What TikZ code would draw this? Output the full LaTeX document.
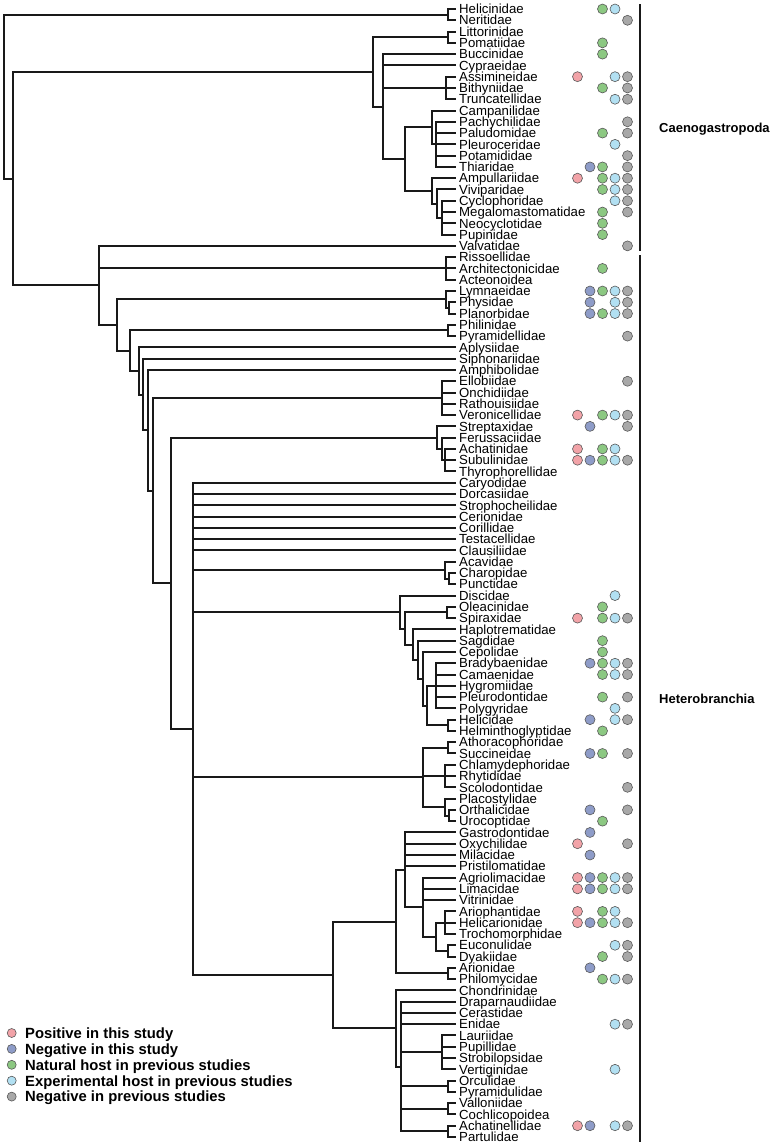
\documentclass[tikz,border=0pt]{standalone}
\usepackage{fontspec}
\setmainfont{Liberation Sans}
\usetikzlibrary{positioning,calc}

\definecolor{hpos}{RGB}{242,163,168}
\definecolor{hneg}{RGB}{142,156,200}
\definecolor{hnat}{RGB}{140,200,130}
\definecolor{hexp}{RGB}{178,224,242}
\definecolor{hprev}{RGB}{168,168,168}

\newcommand{\clade}[3]{%
  \foreach \kid [count=\kn] in {#3}{\ifnum\kn=1 \xdef\cfirst{\kid}\fi\xdef\clast{\kid}}%
  \coordinate (#2-m) at ($(\cfirst)!.5!(\clast)$);
  \coordinate (#2) at (#1,0 |- #2-m);
  \foreach \kid in {#3}{\draw[br] (#2) |- (\kid);}}

\begin{document}
\begin{tikzpicture}[
  x=1bp,y=-1bp,
  br/.style={line width=2bp,draw=black!90},
  tip/.style={anchor=west,inner xsep=3bp,inner ysep=0pt,text height=9.4bp,text depth=0pt,
              font=\fontsize{13.2bp}{14bp}\selectfont},
  dot/.style={circle,draw=black!65,line width=0.6bp,minimum size=10bp,inner sep=0pt},
  dP/.style={dot,fill=hpos,xshift=121.5bp},
  dB/.style={dot,fill=hneg,xshift=134bp},
  dG/.style={dot,fill=hnat,xshift=146.5bp},
  dC/.style={dot,fill=hexp,xshift=159bp},
  dY/.style={dot,fill=hprev,xshift=171.5bp},
  bar/.style={line width=2.8bp,draw=black!90},
  grp/.style={inner sep=0pt,text height=9.3bp,text depth=0pt,
              font=\bfseries\fontsize{13bp}{14bp}\selectfont},
  key/.style={dot,minimum size=9bp},
  keytext/.style={inner sep=0pt,text height=10.6bp,text depth=0pt,
                  font=\bfseries\fontsize{14.8bp}{16bp}\selectfont}
]
\useasboundingbox (0,0) rectangle (778,1147);

\foreach \t [count=\i] in {Helicinidae,Neritidae,Littorinidae,Pomatiidae,Buccinidae,Cypraeidae,
  Assimineidae,Bithyniidae,Truncatellidae,Campanilidae,Pachychilidae,Paludomidae,Pleuroceridae,
  Potamididae,Thiaridae,Ampullariidae,Viviparidae,Cyclophoridae,Megalomastomatidae,Neocyclotidae,
  Pupinidae,Valvatidae,Rissoellidae,Architectonicidae,Acteonoidea,Lymnaeidae,Physidae,Planorbidae,
  Philinidae,Pyramidellidae,Aplysiidae,Siphonariidae,Amphibolidae,Ellobiidae,Onchidiidae,
  Rathouisiidae,Veronicellidae,Streptaxidae,Ferussaciidae,Achatinidae,Subulinidae,Thyrophorellidae,
  Caryodidae,Dorcasiidae,Strophocheilidae,Cerionidae,Corillidae,Testacellidae,Clausiliidae,
  Acavidae,Charopidae,Punctidae,Discidae,Oleacinidae,Spiraxidae,Haplotrematidae,Sagdidae,
  Cepolidae,Bradybaenidae,Camaenidae,Hygromiidae,Pleurodontidae,Polygyridae,Helicidae,
  Helminthoglyptidae,Athoracophoridae,Succineidae,Chlamydephoridae,Rhytididae,Scolodontidae,
  Placostylidae,Orthalicidae,Urocoptidae,Gastrodontidae,Oxychilidae,Milacidae,Pristilomatidae,
  Agriolimacidae,Limacidae,Vitrinidae,Ariophantidae,Helicarionidae,Trochomorphidae,Euconulidae,
  Dyakiidae,Arionidae,Philomycidae,Chondrinidae,Draparnaudiidae,Cerastidae,Enidae,Lauriidae,
  Pupillidae,Strobilopsidae,Vertiginidae,Orculidae,Pyramidulidae,Valloniidae,Cochlicopoidea,
  Achatinellidae,Partulidae}
  \node[tip] (\t) at (456,{9+(\i-1)*11.28}) {\t};

\clade{448}{neri}{Helicinidae,Neritidae}
\clade{448}{litt}{Littorinidae,Pomatiidae}
\clade{446}{assi}{Assimineidae,Bithyniidae,Truncatellidae}
\clade{436}{ceri}{Pachychilidae,Paludomidae,Pleuroceridae,Potamididae,Thiaridae}
\clade{432}{camp}{Campanilidae,ceri}
\clade{442}{cycl}{Cyclophoridae,Megalomastomatidae,Neocyclotidae,Pupinidae}
\clade{437}{vivi}{Viviparidae,cycl}
\clade{432}{ampu}{Ampullariidae,vivi}
\clade{405}{arch}{camp,ampu}
\clade{383}{hyps}{Buccinidae,Cypraeidae,assi,arch}
\clade{373}{caeno}{litt,hyps}

\clade{446}{riss}{Rissoellidae,Architectonicidae,Acteonoidea}
\clade{449}{phys}{Physidae,Planorbidae}
\clade{446}{lymn}{Lymnaeidae,phys}
\clade{448}{phil}{Philinidae,Pyramidellidae}
\clade{442}{ello}{Ellobiidae,Onchidiidae,Rathouisiidae,Veronicellidae}
\clade{445}{acha}{Achatinidae,Subulinidae,Thyrophorellidae}
\clade{441.5}{feru}{Ferussaciidae,acha}
\clade{437}{strep}{Streptaxidae,feru}
\clade{449}{punc}{Charopidae,Punctidae}
\clade{445}{acav}{Acavidae,punc}
\clade{447}{olea}{Oleacinidae,Spiraxidae}
\clade{436}{brad}{Bradybaenidae,Camaenidae,Hygromiidae,Pleurodontidae,Polygyridae}
\clade{448}{heli}{Helicidae,Helminthoglyptidae}
\clade{427}{cama}{brad,heli}
\clade{422.7}{cepo}{Cepolidae,cama}
\clade{418}{sagd}{Sagdidae,cepo}
\clade{413}{hapl}{Haplotrematidae,sagd}
\clade{405}{spir}{olea,hapl}
\clade{400}{disc}{Discidae,spir}
\clade{448}{atho}{Athoracophoridae,Succineidae}
\clade{445}{chla}{Chlamydephoridae,Rhytididae,Scolodontidae}
\clade{449}{orth}{Orthalicidae,Urocoptidae}
\clade{445}{plac}{Placostylidae,orth}
\clade{422.7}{rhyt}{atho,chla,plac}
\clade{445}{troc}{Ariophantidae,Helicarionidae,Trochomorphidae}
\clade{448}{euco}{Euconulidae,Dyakiidae}
\clade{436}{ario}{troc,euco}
\clade{422.7}{lima}{Agriolimacidae,Limacidae,Vitrinidae,ario}
\clade{405}{gast}{Gastrodontidae,Oxychilidae,Milacidae,Pristilomatidae,lima}
\clade{448}{arion}{Arionidae,Philomycidae}
\clade{395.7}{limo}{gast,arion}
\clade{441.7}{laur}{Lauriidae,Pupillidae,Strobilopsidae,Vertiginidae}
\clade{448}{orcu}{Orculidae,Pyramidulidae}
\clade{448}{vall}{Valloniidae,Cochlicopoidea}
\clade{448}{part}{Achatinellidae,Partulidae}
\clade{400.7}{drap}{Draparnaudiidae,Cerastidae,Enidae,laur,orcu,vall,part}
\clade{395.7}{chon}{Chondrinidae,drap}
\clade{332.7}{stylo}{limo,chon}
\clade{193}{eupul}{Caryodidae,Dorcasiidae,Strophocheilidae,Cerionidae,Corillidae,Testacellidae,
  Clausiliidae,acav,disc,rhyt,stylo}
\clade{171}{panp}{strep,eupul}
\clade{152.5}{hygr}{ello,panp}
\clade{148}{amph}{Amphibolidae,hygr}
\clade{143}{siph}{Siphonariidae,amph}
\clade{139}{aply}{Aplysiidae,siph}
\clade{130}{tect}{phil,aply}
\clade{117}{euth}{lymn,tect}
\clade{99}{hetero}{Valvatidae,riss,euth}
\clade{13}{apog}{caeno,hetero}
\clade{4}{root}{neri,apog}

\foreach \t/\cols in {Helicinidae/{G,C},Neritidae/{Y},Pomatiidae/{G},Buccinidae/{G},
  Assimineidae/{P,C,Y},Bithyniidae/{G,Y},Truncatellidae/{C,Y},Pachychilidae/{Y},Paludomidae/{G,Y},
  Pleuroceridae/{C},Potamididae/{Y},Thiaridae/{B,G,Y},Ampullariidae/{P,G,C,Y},Viviparidae/{G,C,Y},
  Cyclophoridae/{C,Y},Megalomastomatidae/{G,Y},Neocyclotidae/{G},Pupinidae/{G},Valvatidae/{Y},
  Architectonicidae/{G},Lymnaeidae/{B,G,C,Y},Physidae/{B,C,Y},Planorbidae/{B,G,C,Y},
  Pyramidellidae/{Y},Ellobiidae/{Y},Veronicellidae/{P,G,C,Y},Streptaxidae/{B,Y},
  Achatinidae/{P,G,C},Subulinidae/{P,B,G,C,Y},Discidae/{C},Oleacinidae/{G},Spiraxidae/{P,G,C,Y},
  Sagdidae/{G},Cepolidae/{G},Bradybaenidae/{B,G,C,Y},Camaenidae/{G,C,Y},Pleurodontidae/{G,Y},
  Polygyridae/{C},Helicidae/{B,C,Y},Helminthoglyptidae/{G},Succineidae/{B,G,Y},Scolodontidae/{Y},
  Orthalicidae/{B,Y},Urocoptidae/{G},Gastrodontidae/{B},Oxychilidae/{P,Y},Milacidae/{B},
  Agriolimacidae/{P,B,G,C,Y},Limacidae/{P,B,G,C,Y},Ariophantidae/{P,G,C},
  Helicarionidae/{P,B,G,C,Y},Euconulidae/{C,Y},Dyakiidae/{G,Y},Arionidae/{B},
  Philomycidae/{G,C,Y},Enidae/{C,Y},Vertiginidae/{C},Achatinellidae/{P,B,C,Y}}
  \foreach \k in \cols {\node[d\k] at (\t.west) {};};

\coordinate (caeT) at (640,4);
\coordinate (caeB) at (640,251);
\coordinate (hetT) at (640,255);
\coordinate (hetB) at (640,1142);
\draw[bar] (caeT) -- (caeB);
\draw[bar] (hetT) -- (hetB);
\coordinate (caeM) at ($(caeT)!.5!(caeB)$);
\coordinate (hetM) at ($(hetT)!.5!(hetB)$);
\node[grp,right=19bp of caeM] (caelab) {Caenogastropoda};
\node[grp,right=19bp of hetM] (hetlab) {Heterobranchia};

\foreach \c/\txt [count=\i] in {hpos/Positive in this study,hneg/Negative in this study,
  hnat/Natural host in previous studies,hexp/Experimental host in previous studies,
  hprev/Negative in previous studies}{
  \node[key,fill=\c] (key\i) at (11.7,{1033+(\i-1)*15.9}) {};
  \node[keytext,right=8.5bp of key\i] (keytext\i) {\txt};
}
\end{tikzpicture}
\end{document}
